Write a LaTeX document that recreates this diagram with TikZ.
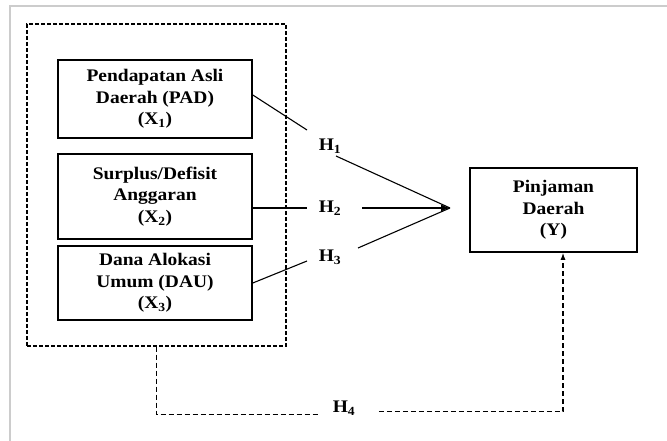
\documentclass[tikz,border=0pt]{standalone}
\usepackage{fontspec}
\newfontfamily\boxfont[FakeStretch=1.1]{Liberation Serif}
\usetikzlibrary{calc,arrows.meta}

\tikzset{
  var/.style={draw, line width=1.6pt, align=center, minimum width=194pt, inner sep=0pt},
  link/.style={line width=1.1pt},
  dashlink/.style={line width=1.2pt, dash pattern=on 5pt off 3pt}
}

\begin{document}
\begin{tikzpicture}[x=1pt,y=-1pt,font=\boxfont\bfseries\fontsize{17.7}{21.7}\selectfont]
        \useasboundingbox (0,0) rectangle (667,441);
        \draw[gray!40, line width=2pt] (9.5,441) -- (9.5,6) -- (667,6);

        \node at (156.5,185) [draw, line width=1.2pt, dash pattern=on 4pt off 2pt,
          minimum width=259pt, minimum height=322pt, inner sep=0pt] (grp) {};

        \node at (155,99) [var, minimum height=78pt] (x1) {Pendapatan Asli\\Daerah (PAD)\\(X\textsubscript{1})};
        \node at (155,196.5) [var, minimum height=85pt] (x2) {Surplus/Defisit\\Anggaran\\(X\textsubscript{2})};
        \node at (155,283) [var, minimum height=74pt] (x3) {Dana Alokasi\\Umum (DAU)\\(X\textsubscript{3})};
        \node at (553.5,210) [var, minimum width=167pt, minimum height=84pt] (yv) {Pinjaman\\Daerah\\(Y)};

        \node at (330,146) (h1) {H\textsubscript{1}};
        \node at (330,208) (h2) {H\textsubscript{2}};
        \node at (330,257) (h3) {H\textsubscript{3}};
        \node at (344,408) (h4) {H\textsubscript{4}};

        \coordinate (tip) at (450,208);

        \draw[link] ($(x1.east)+(0,-4)$) -- ($(h1)+(-23,-16)$);
        \draw[link] ($(h1)+(6,10)$) -- (tip);
        \draw[link] (x2.east |- h2) -- ($(h2)+(-23,0)$);
        \draw[link,-{Latex[length=9pt,width=7pt]}] ($(h2)+(32,0)$) -- (tip);
        \draw[link] (x3.east) -- ($(h3)+(-23,4)$);
        \draw[link] ($(h3)+(28,-9)$) -- (tip);

        \draw[dashlink] (grp.south) |- ($(h4.base west)+(-10,2)$);
        \draw[dashlink,-{Latex[length=7pt,width=5pt]}] ($(h4.base east)+(20,-1)$) -| ($(yv.south)+(9.5,0)$);
\end{tikzpicture}
\end{document}
